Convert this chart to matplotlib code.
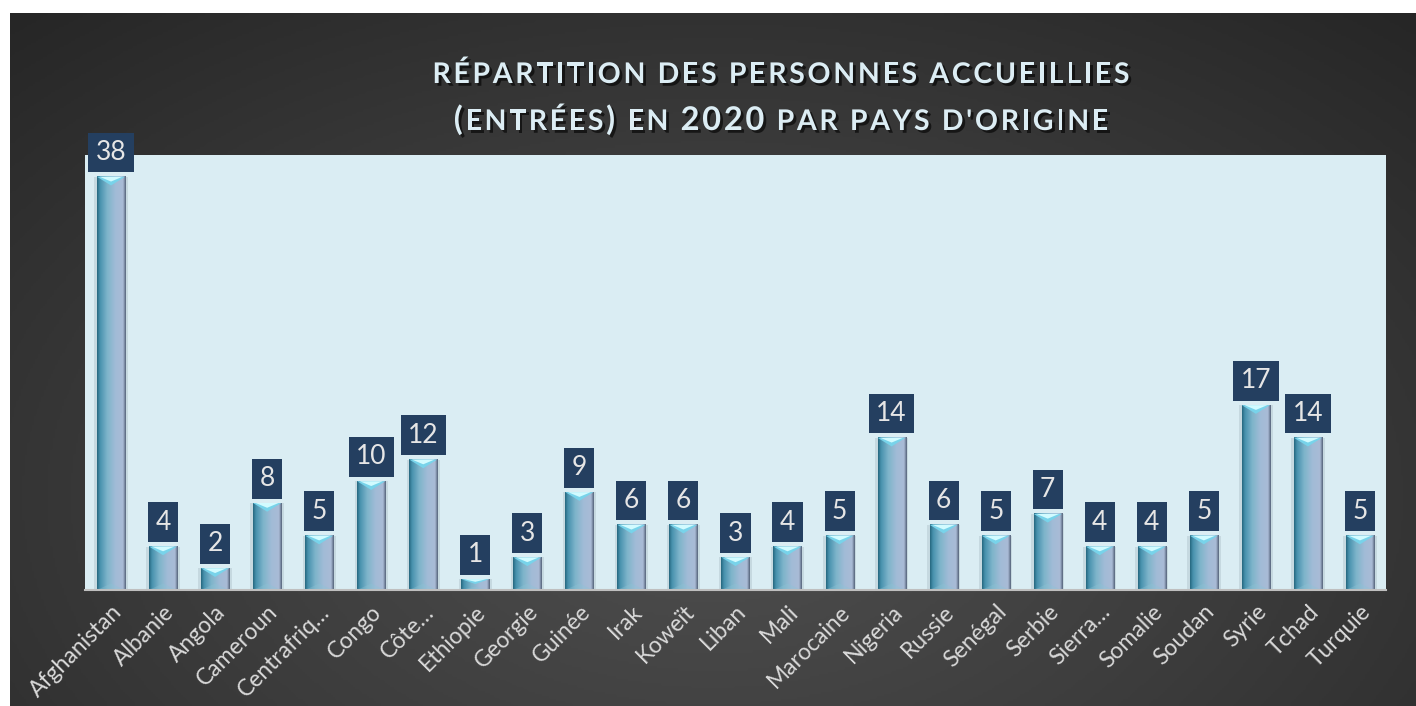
import matplotlib.pyplot as plt
import matplotlib.patheffects as pe
from matplotlib.colors import LinearSegmentedColormap
from matplotlib.patches import Polygon
import numpy as np

pays = ["Afghanistan", "Albanie", "Angola", "Cameroun", "Centrafriq…", "Congo",
        "Côte…", "Ethiopie", "Georgie", "Guinée", "Irak", "Koweït", "Liban",
        "Mali", "Marocaine", "Nigeria", "Russie", "Senégal", "Serbie",
        "Sierra…", "Somalie", "Soudan", "Syrie", "Tchad", "Turquie"]
valeurs = [38, 4, 2, 8, 5, 10, 12, 1, 3, 9, 6, 6, 3, 4, 5, 14, 6, 5, 7, 4, 4, 5, 17, 14, 5]
titre = ["RÉPARTITION DES PERSONNES ACCUEILLIES",
         "(ENTRÉES) EN 2020 PAR PAYS D'ORIGINE"]

plt.rcParams['font.family'] = ['Lato', 'DejaVu Sans']

W, H = 1416, 706
fig = plt.figure(figsize=(W / 100, H / 100), dpi=100, facecolor="white")

# dark gradient background
bg = fig.add_axes([10 / W, 0, 1 - 10 / W, 1 - 13 / H])
bg.set_axis_off()
yy, xx = np.mgrid[0:1:300j, 0:1:600j]
d = np.sqrt(((xx - 0.5) / 0.75) ** 2 + ((yy - 0.3) / 0.95) ** 2)
d = np.clip(d / d.max(), 0, 1)
bgmap = LinearSegmentedColormap.from_list("bg", ["#4f4f4f", "#3c3c3c", "#262626"])
bg.imshow(d, cmap=bgmap, aspect="auto", extent=(0, 1, 0, 1), origin="lower")

# plot area
ax = fig.add_axes([85 / W, 1 - 590 / H, (1386 - 85) / W, (590 - 155) / H])
ax.set_facecolor("#daedf3")

barmap = LinearSegmentedColormap.from_list(
    "bar", [(0, "#26687f"), (0.1, "#4791ad"), (0.35, "#7db4ca"),
            (0.65, "#a2bcd7"), (0.9, "#a9bbd6"), (1.0, "#56647a")])
grad = np.linspace(0, 1, 128).reshape(1, -1)

largeur = 0.54
x = np.arange(len(pays))
bars = ax.bar(x, valeurs, width=largeur, color="none", zorder=2)
for b, v in zip(bars, valeurs):
    l = b.get_x()
    r = l + b.get_width()
    c = (l + r) / 2
    # soft shadow
    ax.bar(c, v, width=largeur + 0.1, color="#6f7f8a", alpha=0.18, zorder=1)
    ax.imshow(grad, cmap=barmap, extent=(l, r, 0, v), aspect="auto", zorder=2)
    dv = min(0.8, v * 0.45)
    ax.add_patch(Polygon([(l, v), (r, v), (c, v - dv)], closed=True,
                         facecolor="#78d3ea", edgecolor="none", zorder=3))
    ax.add_patch(Polygon([(l + 0.05, v), (r - 0.05, v), (c, v - dv * 0.55)], closed=True,
                         facecolor="#d2fbff", edgecolor="none", zorder=3))
    db = min(0.6, v * 0.3)
    ax.add_patch(Polygon([(l, 0), (r, 0), (c, db)], closed=True,
                         facecolor="#8cc4d6", edgecolor="none", alpha=0.35, zorder=3))
    ax.annotate(str(v), (c, v), xytext=(0, 8.5), textcoords="offset points",
                ha="center", va="bottom", fontsize=19, color="#e6e6e6", zorder=5,
                bbox=dict(boxstyle="square,pad=0.28", fc="#243f60", ec="none"))

ax.set_xlim(-0.5, len(pays) - 0.5)
ax.set_ylim(0, 40)
ax.set_yticks([])
ax.set_xticks(x)
ax.set_xticklabels(pays, rotation=45, ha="right", rotation_mode="anchor",
                   fontsize=16.5, color="#d9d9d9")
ax.tick_params(axis="x", length=0, pad=8)
for s in ["top", "left", "right"]:
    ax.spines[s].set_visible(False)
ax.spines["bottom"].set_color("#bfbfbf")
ax.spines["bottom"].set_linewidth(1.5)
ax.spines["bottom"].set_zorder(4)

# title: spaced capitals, digits and brackets a little larger (small caps look)
rend = fig.canvas.get_renderer()
ombre = [pe.SimplePatchShadow(offset=(2, -2), shadow_rgbFace="black", alpha=0.6), pe.Normal()]


def taille(ch):
    return 23.5 if ch in "0123456789()" else 20.5


def avance(ch):
    t1 = fig.text(0, 0, "I" + ch + "I", fontsize=taille(ch), fontweight="bold")
    t2 = fig.text(0, 0, "II", fontsize=taille(ch), fontweight="bold")
    w = t1.get_window_extent(rend).width - t2.get_window_extent(rend).width
    t1.remove()
    t2.remove()
    return w


avances = [[avance(ch) for ch in ligne] for ligne in titre]
esp = (697 - sum(avances[0])) / (len(titre[0]) - 1)
for ligne, av, base in zip(titre, avances, [83, 130]):
    total = sum(av) + esp * (len(ligne) - 1)
    xpix = 781 - total / 2
    for ch, a in zip(ligne, av):
        if ch != " ":
            fig.text(xpix / W, 1 - base / H, ch, ha="left", va="baseline",
                     fontsize=taille(ch), fontweight="bold", color="#dcedf4",
                     path_effects=ombre)
        xpix += a + esp

fig.savefig("out.png", dpi=100, facecolor="white")
